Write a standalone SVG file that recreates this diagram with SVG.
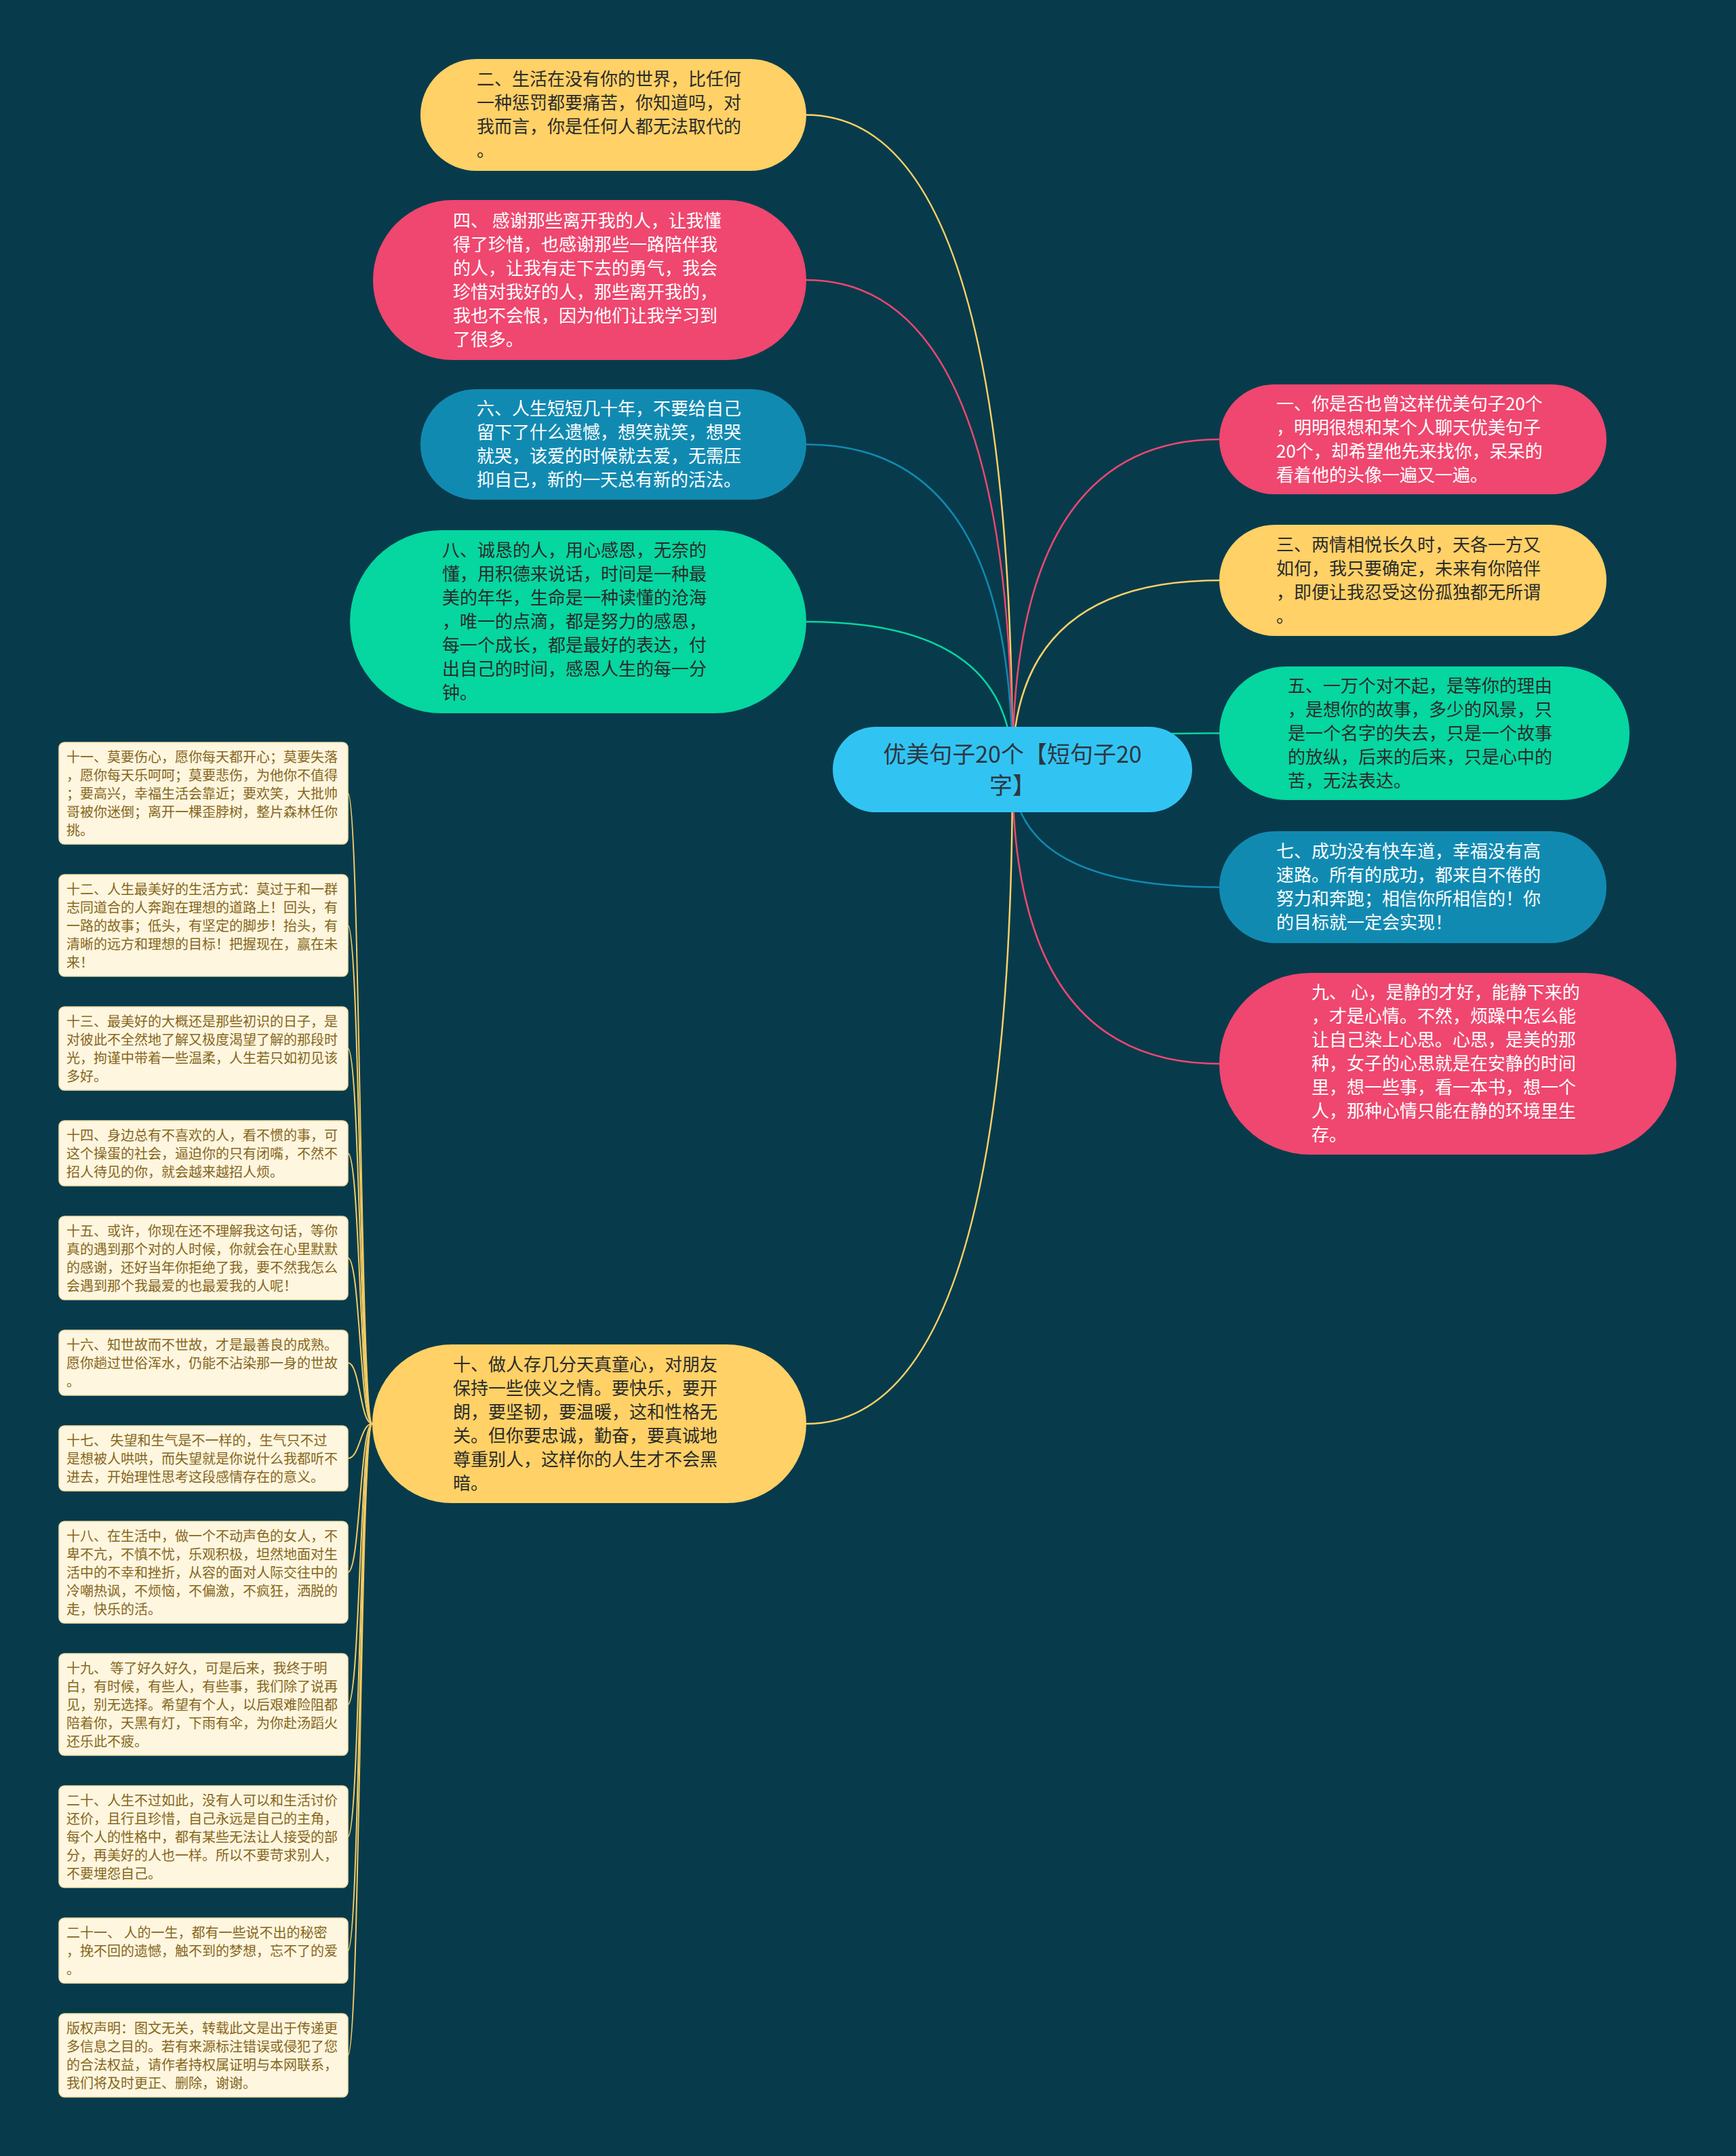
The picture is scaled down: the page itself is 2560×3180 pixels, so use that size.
<svg xmlns="http://www.w3.org/2000/svg" width="2560" height="3180" viewBox="0 0 2560 3180">
<style>
text{font-family:"Noto Sans CJK SC","Noto Sans",sans-serif;}
.t{font-size:26px;}
.dark{fill:#2b2b2b;}
.light{fill:#ffffff;}
.root-t{font-size:34px;fill:#2d3640;text-anchor:middle;}
.leaf rect{fill:#fef6df;stroke:#f1dfa6;stroke-width:1.5;}
.leaf text{font-size:20px;fill:#86661b;}
.c{fill:none;stroke-width:2.5;}
.lc{fill:none;stroke:#f4cb62;stroke-width:2;}
.pink{fill:#ef476f;} .yellow{fill:#ffd166;} .green{fill:#06d6a0;} .blue{fill:#118ab2;}
</style>
<rect width="2560" height="3180" fill="#073b4c"/>
<g id="connectors">
<path class="c" stroke="#ffd166" d="M1493,1135 Q1493,169.5 1189,169.5"/>
<path class="c" stroke="#ef476f" d="M1493,1135 Q1493,413 1189,413"/>
<path class="c" stroke="#118ab2" d="M1493,1135 Q1493,655.5 1189,655.5"/>
<path class="c" stroke="#06d6a0" d="M1493,1135 Q1493,917 1189,917"/>
<path class="c" stroke="#ffd166" d="M1493,1135 Q1493,2100 1189,2100"/>
<path class="c" stroke="#ef476f" d="M1493,1135 Q1493,648 1798,648"/>
<path class="c" stroke="#ffd166" d="M1493,1135 Q1493,856 1798,856"/>
<path class="c" stroke="#06d6a0" d="M1493,1135 Q1493,1081.5 1798,1081.5"/>
<path class="c" stroke="#118ab2" d="M1493,1135 Q1493,1308.5 1798,1308.5"/>
<path class="c" stroke="#ef476f" d="M1493,1135 Q1493,1569 1798,1569"/>
<path class="lc" d="M549,2100 C531,2100 531,1170 513,1170"/>
<path class="lc" d="M549,2100 C531,2100 531,1365 513,1365"/>
<path class="lc" d="M549,2100 C531,2100 531,1546.5 513,1546.5"/>
<path class="lc" d="M549,2100 C531,2100 531,1701 513,1701"/>
<path class="lc" d="M549,2100 C531,2100 531,1855.5 513,1855.5"/>
<path class="lc" d="M549,2100 C531,2100 531,2010 513,2010"/>
<path class="lc" d="M549,2100 C531,2100 531,2151 513,2151"/>
<path class="lc" d="M549,2100 C531,2100 531,2319 513,2319"/>
<path class="lc" d="M549,2100 C531,2100 531,2514 513,2514"/>
<path class="lc" d="M549,2100 C531,2100 531,2709 513,2709"/>
<path class="lc" d="M549,2100 C531,2100 531,2877 513,2877"/>
<path class="lc" d="M549,2100 C531,2100 531,3031.5 513,3031.5"/>
</g>
<g id="root">
<rect x="1228" y="1072" width="530" height="126" rx="63" fill="#31c4f3"/>
<text class="root-t"><tspan x="1493" y="1125">优美句子20个【短句子20</tspan><tspan x="1493" y="1171">字】</tspan></text>
</g>
<g id="n2">
<rect class="yellow" x="620" y="87" width="569" height="165" rx="82.5"/>
<text class="t dark"><tspan x="703" y="126">二、生活在没有你的世界，比任何</tspan><tspan x="703" dy="35">一种惩罚都要痛苦，你知道吗，对</tspan><tspan x="703" dy="35">我而言，你是任何人都无法取代的</tspan><tspan x="703" dy="35">。</tspan></text>
</g>
<g id="n4">
<rect class="pink" x="550" y="295" width="639" height="236" rx="118"/>
<text class="t light"><tspan x="668" y="334.5">四、 感谢那些离开我的人，让我懂</tspan><tspan x="668" dy="35">得了珍惜，也感谢那些一路陪伴我</tspan><tspan x="668" dy="35">的人，让我有走下去的勇气，我会</tspan><tspan x="668" dy="35">珍惜对我好的人，那些离开我的，</tspan><tspan x="668" dy="35">我也不会恨，因为他们让我学习到</tspan><tspan x="668" dy="35">了很多。</tspan></text>
</g>
<g id="n6">
<rect class="blue" x="620" y="574" width="569" height="163" rx="81.5"/>
<text class="t light"><tspan x="703" y="612">六、人生短短几十年，不要给自己</tspan><tspan x="703" dy="35">留下了什么遗憾，想笑就笑，想哭</tspan><tspan x="703" dy="35">就哭，该爱的时候就去爱，无需压</tspan><tspan x="703" dy="35">抑自己，新的一天总有新的活法。</tspan></text>
</g>
<g id="n8">
<rect class="green" x="516" y="782" width="673" height="270" rx="135"/>
<text class="t dark"><tspan x="652" y="821">八、诚恳的人，用心感恩，无奈的</tspan><tspan x="652" dy="35">懂，用积德来说话，时间是一种最</tspan><tspan x="652" dy="35">美的年华，生命是一种读懂的沧海</tspan><tspan x="652" dy="35">，唯一的点滴，都是努力的感恩，</tspan><tspan x="652" dy="35">每一个成长，都是最好的表达，付</tspan><tspan x="652" dy="35">出自己的时间，感恩人生的每一分</tspan><tspan x="652" dy="35">钟。</tspan></text>
</g>
<g id="n10">
<rect class="yellow" x="549" y="1983" width="640" height="234" rx="117"/>
<text class="t dark"><tspan x="668" y="2021.5">十、做人存几分天真童心，对朋友</tspan><tspan x="668" dy="35">保持一些侠义之情。要快乐，要开</tspan><tspan x="668" dy="35">朗，要坚韧，要温暖，这和性格无</tspan><tspan x="668" dy="35">关。但你要忠诚，勤奋，要真诚地</tspan><tspan x="668" dy="35">尊重别人，这样你的人生才不会黑</tspan><tspan x="668" dy="35">暗。</tspan></text>
</g>
<g id="n1">
<rect class="pink" x="1798" y="567" width="571" height="162" rx="81"/>
<text class="t light"><tspan x="1882" y="604.5">一、你是否也曾这样优美句子20个</tspan><tspan x="1882" dy="35">，明明很想和某个人聊天优美句子</tspan><tspan x="1882" dy="35">20个，却希望他先来找你，呆呆的</tspan><tspan x="1882" dy="35">看着他的头像一遍又一遍。</tspan></text>
</g>
<g id="n3">
<rect class="yellow" x="1798" y="774" width="571" height="164" rx="82"/>
<text class="t dark"><tspan x="1882" y="812.5">三、两情相悦长久时，天各一方又</tspan><tspan x="1882" dy="35">如何，我只要确定，未来有你陪伴</tspan><tspan x="1882" dy="35">，即便让我忍受这份孤独都无所谓</tspan><tspan x="1882" dy="35">。</tspan></text>
</g>
<g id="n5">
<rect class="green" x="1798" y="983" width="605" height="197" rx="98.5"/>
<text class="t dark"><tspan x="1899" y="1020.5">五、一万个对不起，是等你的理由</tspan><tspan x="1899" dy="35">，是想你的故事，多少的风景，只</tspan><tspan x="1899" dy="35">是一个名字的失去，只是一个故事</tspan><tspan x="1899" dy="35">的放纵，后来的后来，只是心中的</tspan><tspan x="1899" dy="35">苦，无法表达。</tspan></text>
</g>
<g id="n7">
<rect class="blue" x="1798" y="1226" width="571" height="165" rx="82.5"/>
<text class="t light"><tspan x="1882" y="1265">七、成功没有快车道，幸福没有高</tspan><tspan x="1882" dy="35">速路。所有的成功，都来自不倦的</tspan><tspan x="1882" dy="35">努力和奔跑；相信你所相信的！你</tspan><tspan x="1882" dy="35">的目标就一定会实现！</tspan></text>
</g>
<g id="n9">
<rect class="pink" x="1798" y="1435" width="674" height="268" rx="134"/>
<text class="t light"><tspan x="1934" y="1473">九、 心，是静的才好，能静下来的</tspan><tspan x="1934" dy="35">，才是心情。不然，烦躁中怎么能</tspan><tspan x="1934" dy="35">让自己染上心思。心思，是美的那</tspan><tspan x="1934" dy="35">种，女子的心思就是在安静的时间</tspan><tspan x="1934" dy="35">里，想一些事，看一本书，想一个</tspan><tspan x="1934" dy="35">人，那种心情只能在静的环境里生</tspan><tspan x="1934" dy="35">存。</tspan></text>
</g>
<g id="n11" class="leaf">
<rect x="87" y="1095" width="426" height="150" rx="8"/>
<text><tspan x="98" y="1124">十一、莫要伤心，愿你每天都开心；莫要失落</tspan><tspan x="98" dy="27">，愿你每天乐呵呵；莫要悲伤，为他你不值得</tspan><tspan x="98" dy="27">；要高兴，幸福生活会靠近；要欢笑，大批帅</tspan><tspan x="98" dy="27">哥被你迷倒；离开一棵歪脖树，整片森林任你</tspan><tspan x="98" dy="27">挑。</tspan></text>
</g>
<g id="n12" class="leaf">
<rect x="87" y="1290" width="426" height="150" rx="8"/>
<text><tspan x="98" y="1319">十二、人生最美好的生活方式：莫过于和一群</tspan><tspan x="98" dy="27">志同道合的人奔跑在理想的道路上！回头，有</tspan><tspan x="98" dy="27">一路的故事；低头，有坚定的脚步！抬头，有</tspan><tspan x="98" dy="27">清晰的远方和理想的目标！把握现在，赢在未</tspan><tspan x="98" dy="27">来！</tspan></text>
</g>
<g id="n13" class="leaf">
<rect x="87" y="1485" width="426" height="123" rx="8"/>
<text><tspan x="98" y="1514">十三、最美好的大概还是那些初识的日子，是</tspan><tspan x="98" dy="27">对彼此不全然地了解又极度渴望了解的那段时</tspan><tspan x="98" dy="27">光，拘谨中带着一些温柔，人生若只如初见该</tspan><tspan x="98" dy="27">多好。</tspan></text>
</g>
<g id="n14" class="leaf">
<rect x="87" y="1653" width="426" height="96" rx="8"/>
<text><tspan x="98" y="1682">十四、身边总有不喜欢的人，看不惯的事，可</tspan><tspan x="98" dy="27">这个操蛋的社会，逼迫你的只有闭嘴，不然不</tspan><tspan x="98" dy="27">招人待见的你，就会越来越招人烦。</tspan></text>
</g>
<g id="n15" class="leaf">
<rect x="87" y="1794" width="426" height="123" rx="8"/>
<text><tspan x="98" y="1823">十五、或许，你现在还不理解我这句话，等你</tspan><tspan x="98" dy="27">真的遇到那个对的人时候，你就会在心里默默</tspan><tspan x="98" dy="27">的感谢，还好当年你拒绝了我，要不然我怎么</tspan><tspan x="98" dy="27">会遇到那个我最爱的也最爱我的人呢！</tspan></text>
</g>
<g id="n16" class="leaf">
<rect x="87" y="1962" width="426" height="96" rx="8"/>
<text><tspan x="98" y="1991">十六、知世故而不世故，才是最善良的成熟。</tspan><tspan x="98" dy="27">愿你趟过世俗浑水，仍能不沾染那一身的世故</tspan><tspan x="98" dy="27">。</tspan></text>
</g>
<g id="n17" class="leaf">
<rect x="87" y="2103" width="426" height="96" rx="8"/>
<text><tspan x="98" y="2132">十七、 失望和生气是不一样的，生气只不过</tspan><tspan x="98" dy="27">是想被人哄哄，而失望就是你说什么我都听不</tspan><tspan x="98" dy="27">进去，开始理性思考这段感情存在的意义。</tspan></text>
</g>
<g id="n18" class="leaf">
<rect x="87" y="2244" width="426" height="150" rx="8"/>
<text><tspan x="98" y="2273">十八、在生活中，做一个不动声色的女人，不</tspan><tspan x="98" dy="27">卑不亢，不慎不忧，乐观积极，坦然地面对生</tspan><tspan x="98" dy="27">活中的不幸和挫折，从容的面对人际交往中的</tspan><tspan x="98" dy="27">冷嘲热讽，不烦恼，不偏激，不疯狂，洒脱的</tspan><tspan x="98" dy="27">走，快乐的活。</tspan></text>
</g>
<g id="n19" class="leaf">
<rect x="87" y="2439" width="426" height="150" rx="8"/>
<text><tspan x="98" y="2468">十九、 等了好久好久，可是后来，我终于明</tspan><tspan x="98" dy="27">白，有时候，有些人，有些事，我们除了说再</tspan><tspan x="98" dy="27">见，别无选择。希望有个人，以后艰难险阻都</tspan><tspan x="98" dy="27">陪着你，天黑有灯，下雨有伞，为你赴汤蹈火</tspan><tspan x="98" dy="27">还乐此不疲。</tspan></text>
</g>
<g id="n20" class="leaf">
<rect x="87" y="2634" width="426" height="150" rx="8"/>
<text><tspan x="98" y="2663">二十、人生不过如此，没有人可以和生活讨价</tspan><tspan x="98" dy="27">还价，且行且珍惜，自己永远是自己的主角，</tspan><tspan x="98" dy="27">每个人的性格中，都有某些无法让人接受的部</tspan><tspan x="98" dy="27">分，再美好的人也一样。所以不要苛求别人，</tspan><tspan x="98" dy="27">不要埋怨自己。</tspan></text>
</g>
<g id="n21" class="leaf">
<rect x="87" y="2829" width="426" height="96" rx="8"/>
<text><tspan x="98" y="2858">二十一、 人的一生，都有一些说不出的秘密</tspan><tspan x="98" dy="27">，挽不回的遗憾，触不到的梦想，忘不了的爱</tspan><tspan x="98" dy="27">。</tspan></text>
</g>
<g id="copyright" class="leaf">
<rect x="87" y="2970" width="426" height="123" rx="8"/>
<text><tspan x="98" y="2999">版权声明：图文无关，转载此文是出于传递更</tspan><tspan x="98" dy="27">多信息之目的。若有来源标注错误或侵犯了您</tspan><tspan x="98" dy="27">的合法权益，请作者持权属证明与本网联系，</tspan><tspan x="98" dy="27">我们将及时更正、删除，谢谢。</tspan></text>
</g>
</svg>
